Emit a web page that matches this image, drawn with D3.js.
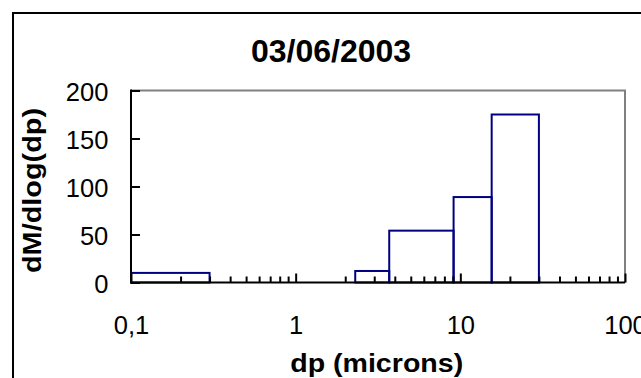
<!DOCTYPE html>
<html>
<head>
<meta charset="utf-8">
<script src="https://cdn.jsdelivr.net/npm/d3@7"></script>
<style>
  html, body { margin: 0; padding: 0; background: #fff; }
  svg { display: block; font-family: Arial, "Liberation Sans", sans-serif; }
</style>
</head>
<body>
<svg id="chart" width="641" height="378"></svg>
<script>
// Size-resolved mass distribution: each bin spans [lower, upper] in microns
const binLower = [0.1, 2.3, 3.7, 9.1, 15.5];
const binUpper = [0.3, 3.7, 9.1, 15.5, 30];
const binValue = [10, 12, 54, 89, 175];

const xTickValues = [0.1, 1, 10, 100];
const xTickLabels = ["0,1", "1", "10", "100"];
const yTickValues = [0, 50, 100, 150, 200];

const titleText = "03/06/2003";
const xTitle = "dp (microns)";
const yTitle = "dM/dlog(dp)";

const svg = d3.select("#chart");
const plot = { left: 131, right: 625, top: 90.5, bottom: 282.5 };

// Outer chart frame
svg.append("rect")
  .attr("x", 13).attr("y", 13)
  .attr("width", 680).attr("height", 400)
  .attr("fill", "#fff").attr("stroke", "#000").attr("stroke-width", 2);

const x = d3.scaleLog().domain([0.1, 100]).range([plot.left, plot.right]);
const y = d3.scaleLinear().domain([0, 200]).range([plot.bottom, plot.top]);

// Plot area frame: grey top and right edges
svg.append("path")
  .attr("d", `M${plot.left},${plot.top}H${plot.right}V${plot.bottom}`)
  .attr("fill", "none").attr("stroke", "#808080").attr("stroke-width", 2);

// Histogram bars
svg.append("g").selectAll("rect")
  .data(binValue.map((v, i) => ({ lo: binLower[i], hi: binUpper[i], v })))
  .join("rect")
  .attr("x", d => x(d.lo))
  .attr("width", d => x(d.hi) - x(d.lo))
  .attr("y", d => y(d.v))
  .attr("height", d => y(0) - y(d.v))
  .attr("fill", "none")
  .attr("stroke", "#000080")
  .attr("stroke-width", 2);

// X axis with inward ticks: major at decades, minor at 2..9
const minorTicks = [];
for (let dec = 0.1; dec < 100; dec *= 10) {
  for (let k = 2; k <= 9; k++) minorTicks.push(+(dec * k).toPrecision(3));
}
const xAxisMinor = d3.axisBottom(x).tickValues(minorTicks).tickSize(-6).tickFormat("");
const xAxisMajor = d3.axisBottom(x).tickValues(xTickValues).tickSize(-9)
  .tickFormat((d, i) => xTickLabels[i]).tickPadding(0);

const gxMinor = svg.append("g").attr("transform", `translate(0,${plot.bottom})`).call(xAxisMinor);
const gx = svg.append("g").attr("transform", `translate(0,${plot.bottom})`).call(xAxisMajor);
[gxMinor, gx].forEach(g => {
  g.select(".domain").remove();
  g.selectAll(".tick line").attr("stroke", "#000").attr("stroke-width", 2);
});
gx.selectAll(".tick text")
  .attr("y", 51).attr("dy", 0)
  .attr("font-size", 25.5).attr("fill", "#000");

// Y axis with inward ticks
const gy = svg.append("g").attr("transform", `translate(${plot.left},0)`)
  .call(d3.axisLeft(y).tickValues(yTickValues).tickSize(-9).tickPadding(0));
gy.select(".domain").remove();
gy.selectAll(".tick line").attr("stroke", "#000").attr("stroke-width", 2);
gy.selectAll(".tick text")
  .attr("x", -22.7).attr("y", 10).attr("dy", 0)
  .attr("font-size", 25.5).attr("fill", "#000");

// Axis lines
svg.append("line")
  .attr("x1", plot.left).attr("x2", plot.right)
  .attr("y1", plot.bottom).attr("y2", plot.bottom)
  .attr("stroke", "#000").attr("stroke-width", 2);
svg.append("line")
  .attr("x1", plot.left).attr("x2", plot.left)
  .attr("y1", plot.top - 1).attr("y2", plot.bottom + 1)
  .attr("stroke", "#000").attr("stroke-width", 2);

// Titles
svg.append("text")
  .attr("x", 331).attr("y", 61.7)
  .attr("text-anchor", "middle")
  .attr("font-size", 32).attr("font-weight", "bold")
  .text(titleText);

svg.append("text")
  .attr("x", 376.7).attr("y", 371.5)
  .attr("text-anchor", "middle")
  .attr("font-size", 26).attr("font-weight", "bold")
  .attr("textLength", 173).attr("lengthAdjust", "spacingAndGlyphs")
  .text(xTitle);

svg.append("text")
  .attr("transform", `translate(41.2,190.5) rotate(-90)`)
  .attr("text-anchor", "middle")
  .attr("font-size", 26).attr("font-weight", "bold")
  .attr("textLength", 165).attr("lengthAdjust", "spacingAndGlyphs")
  .text(yTitle);
</script>
</body>
</html>
